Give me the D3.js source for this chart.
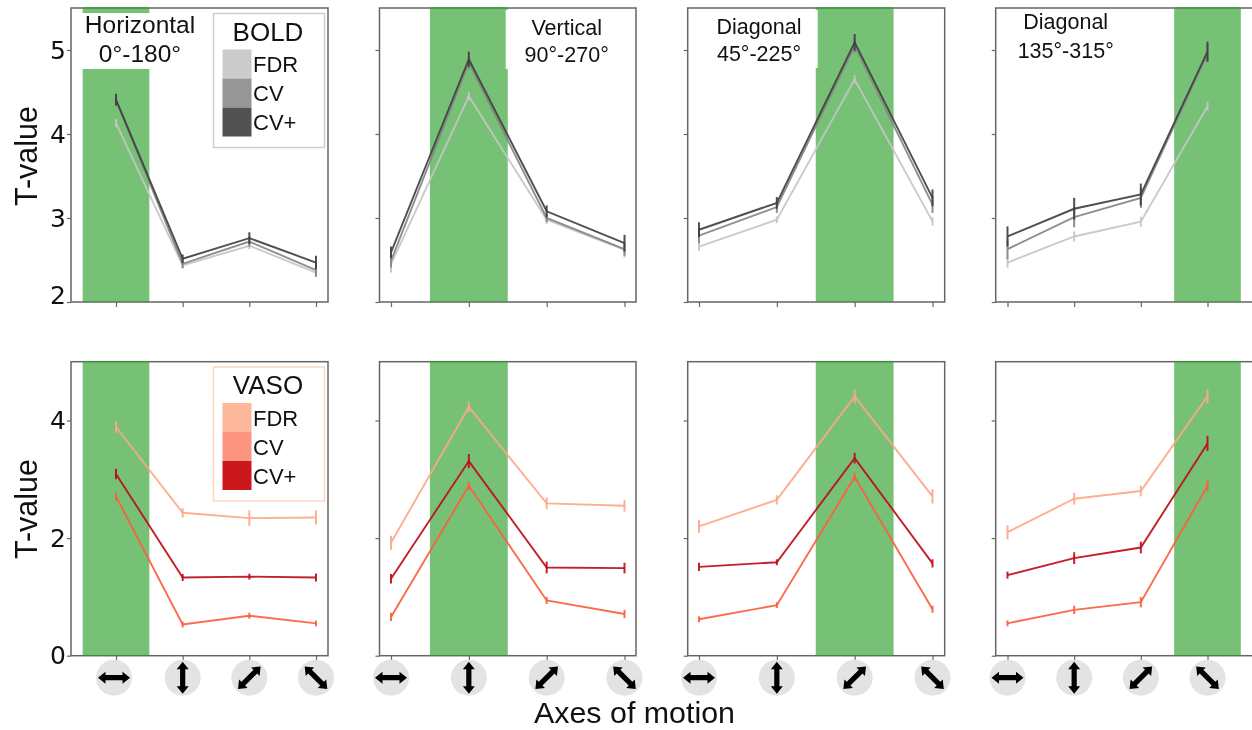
<!DOCTYPE html>
<html>
<head>
<meta charset="utf-8">
<script src="https://cdnjs.cloudflare.com/ajax/libs/d3/7.8.5/d3.min.js"></script>
<style>
    html, body { margin: 0; padding: 0; background: #fff; overflow: hidden; }
    svg { display: block; filter: blur(0.45px); }
    text { font-family: "Liberation Sans", Arial, sans-serif; fill: #111; }
</style>
</head>
<body>
<div id="chart"></div>
<script>
// every array below: one row per panel, one value per axis of motion
const axesOfMotion = ["horizontal", "vertical", "diagonal45", "diagonal135"]

const boldFDR = [
    [4.13, 2.435, 2.67, 2.35],
    [2.45, 4.45, 2.98, 2.62],
    [2.66, 2.98, 4.65, 2.96],
    [2.47, 2.78, 2.955, 4.33],
]
const boldFDRErr = [
    [0.05, 0.04, 0.04, 0.05],
    [0.1, 0.05, 0.05, 0.09],
    [0.05, 0.04, 0.05, 0.05],
    [0.06, 0.06, 0.06, 0.05],
]
const boldCV = [
    [4.4, 2.455, 2.72, 2.38],
    [2.49, 4.85, 3.0, 2.63],
    [2.79, 3.13, 5.05, 3.16],
    [2.63, 3.01, 3.24, 4.96],
]
const boldCVErr = [
    [0.07, 0.05, 0.06, 0.08],
    [0.08, 0.08, 0.05, 0.08],
    [0.09, 0.07, 0.08, 0.1],
    [0.12, 0.12, 0.12, 0.1],
]
const boldCVPlus = [
    [4.41, 2.515, 2.76, 2.47],
    [2.59, 4.89, 3.08, 2.7],
    [2.86, 3.18, 5.09, 3.24],
    [2.78, 3.11, 3.28, 4.98],
]
const boldCVPlusErr = [
    [0.07, 0.05, 0.07, 0.08],
    [0.07, 0.09, 0.07, 0.1],
    [0.09, 0.07, 0.1, 0.1],
    [0.12, 0.13, 0.13, 0.12],
]

const vasoFDR = [
    [3.89, 2.43, 2.34, 2.35],
    [1.92, 4.23, 2.59, 2.55],
    [2.2, 2.65, 4.41, 2.71],
    [2.1, 2.67, 2.8, 4.41],
]
const vasoFDRErr = [
    [0.1, 0.08, 0.13, 0.12],
    [0.12, 0.09, 0.1, 0.1],
    [0.11, 0.08, 0.12, 0.12],
    [0.12, 0.1, 0.09, 0.12],
]
const vasoCV = [
    [2.71, 0.53, 0.68, 0.55],
    [0.66, 2.89, 0.94, 0.71],
    [0.62, 0.86, 3.04, 0.79],
    [0.55, 0.78, 0.91, 2.89],
]
const vasoCVErr = [
    [0.07, 0.05, 0.05, 0.05],
    [0.07, 0.07, 0.06, 0.07],
    [0.05, 0.05, 0.07, 0.06],
    [0.05, 0.07, 0.09, 0.1],
]
const vasoCVPlus = [
    [3.09, 1.33, 1.345, 1.33],
    [1.31, 3.31, 1.5, 1.49],
    [1.51, 1.59, 3.36, 1.57],
    [1.37, 1.66, 1.84, 3.61],
]
const vasoCVPlusErr = [
    [0.09, 0.06, 0.05, 0.07],
    [0.08, 0.12, 0.1, 0.09],
    [0.07, 0.05, 0.09, 0.07],
    [0.06, 0.1, 0.1, 0.13],
]

const preferredAxis = [0, 1, 2, 3]
const boldTicks = [2, 3, 4, 5]
const vasoTicks = [0, 2, 4]
const legendLabels = ["FDR", "CV", "CV+"]
const panelTitles = [
    ["Horizontal", "0°-180°"],
    ["Vertical", "90°-270°"],
    ["Diagonal", "45°-225°"],
    ["Diagonal", "135°-315°"],
]

// layout, in page pixels
const dimensions = { width: 1252, height: 730 }
const panels = [
    { left: 71, right: 328, first: 116, last: 316 },
    { left: 379.5, right: 636, first: 391, last: 624.5 },
    { left: 687.7, right: 944.7, first: 699, last: 932.5 },
    { left: 995.7, right: 1256, first: 1007.5, last: 1207.5 },
]
const titleStyles = [
    { x: 140, y1: 33, y2: 62, size: 24.5 },
    { x: 566.7, y1: 35, y2: 62, size: 21.5 },
    { x: 759, y1: 33.5, y2: 61, size: 21.5 },
    { x: 1065.7, y1: 29, y2: 58, size: 21.5 },
]
// white boxes that sit behind the titles and cut into the green bands
const titlePatches = [
    { x: 76, y: 13, width: 130, height: 56 },
    { x: 505.7, y: 10, width: 128, height: 59 },
    { x: 690, y: 10, width: 127.7, height: 58 },
]

const greys = ["#c6c6c6", "#858585", "#404040"]
const reds = ["#fca888", "#fb5f3e", "#bf0c18"]
const boldSwatches = ["#cbcbcb", "#969696", "#525252"]
const vasoSwatches = ["#fdb79b", "#fc9580", "#cb181d"]
const spineColor = "#666"

const svg = d3.select("#chart")
    .append("svg")
    .attr("width", dimensions.width)
    .attr("height", dimensions.height)

const lineGenerator = (xScale, yScale) => d3.line()
    .x((d, i) => xScale(i))
    .y(d => yScale(d))

function drawPanel(p, row) {
    const box = panels[p]
    const xScale = d3.scaleLinear().domain([0, 3]).range([box.first, box.last])
    const yScale = d3.scaleLinear().domain(row.domain).range([row.bottom, row.top])
    const g = svg.append("g").attr("class", `panel-${row.name}-${p}`)

    // spines go under the band so the top edge reads darker there
    g.append("rect")
        .attr("x", box.left)
        .attr("y", row.top)
        .attr("width", box.right - box.left)
        .attr("height", row.bottom - row.top)
        .attr("fill", "none")
        .attr("stroke", spineColor)
        .attr("stroke-width", 1.5)

    const band = preferredAxis[p]
    g.append("rect")
        .attr("x", xScale(band - 0.5))
        .attr("y", row.top - 0.75)
        .attr("width", xScale(band + 0.5) - xScale(band - 0.5))
        .attr("height", row.bottom - row.top + 0.75)
        .attr("fill", "#2ca02c")
        .attr("opacity", 0.65)

    // lines are slightly see-through, the band tints them a little
    row.series.forEach((s, k) => {
        const values = s.values[p]
        const errors = s.errors[p]
        g.append("path")
            .attr("d", lineGenerator(xScale, yScale)(values))
            .attr("fill", "none")
            .attr("stroke", row.colors[k])
            .attr("stroke-opacity", 0.92)
            .attr("stroke-width", 1.9)
        g.selectAll(null)
            .data(values)
            .enter().append("line")
            .attr("x1", (d, i) => xScale(i))
            .attr("x2", (d, i) => xScale(i))
            .attr("y1", (d, i) => yScale(d - errors[i]))
            .attr("y2", (d, i) => yScale(d + errors[i]))
            .attr("stroke", row.colors[k])
            .attr("stroke-opacity", 0.92)
            .attr("stroke-width", 2)
    })

    const xAxis = d3.axisBottom(xScale)
        .tickValues([0, 1, 2, 3])
        .tickSize(5)
        .tickFormat("")
    g.append("g")
        .attr("transform", `translate(0, ${row.bottom})`)
        .call(xAxis)
        .call(a => a.select(".domain").remove())
        .call(a => a.selectAll("line").attr("stroke", spineColor).attr("stroke-width", 1.2))

    const yAxis = d3.axisLeft(yScale)
        .tickValues(row.ticks)
        .tickSize(4)
        .tickPadding(1)
        .tickFormat(p === 0 ? d3.format("d") : "")
    g.append("g")
        .attr("transform", `translate(${box.left}, 0)`)
        .call(yAxis)
        .call(a => a.select(".domain").remove())
        .call(a => a.selectAll("line").attr("stroke", spineColor).attr("stroke-width", 1.2))
        .call(a => a.selectAll("text")
            .style("font-family", "'DejaVu Sans'")
            .style("font-size", "25px")
            .style("fill", "#111"))
}

function drawLegend(title, swatches, frame, top) {
    const g = svg.append("g")
    g.append("rect")
        .attr("x", 213.5)
        .attr("y", top)
        .attr("width", 111)
        .attr("height", 134)
        .attr("fill", "#fff")
        .attr("stroke", frame)
        .attr("stroke-width", 1.5)
    g.append("text")
        .attr("x", 268)
        .attr("y", top + 27)
        .attr("text-anchor", "middle")
        .style("font-size", "26px")
        .text(title)
    const swatchY = d3.scaleBand().domain(legendLabels).range([top + 36, top + 123])
    g.selectAll("rect.swatch")
        .data(legendLabels)
        .enter().append("rect")
        .attr("class", "swatch")
        .attr("x", 222.5)
        .attr("y", d => swatchY(d))
        .attr("width", 29)
        .attr("height", swatchY.bandwidth())
        .attr("fill", (d, i) => swatches[i])
    g.selectAll("text.entry")
        .data(legendLabels)
        .enter().append("text")
        .attr("class", "entry")
        .attr("x", 253)
        .attr("y", d => swatchY(d) + 22.5)
        .style("font-size", "22px")
        .text(d => d)
}

function drawArrowIcon(cx, cy, axis) {
    const angle = { horizontal: 0, vertical: 90, diagonal45: -45, diagonal135: 45 }[axis]
    const g = svg.append("g").attr("transform", `translate(${cx}, ${cy})`)
    g.append("circle").attr("r", 18).attr("fill", "#e3e3e3")
    g.append("path")
        .attr("transform", `rotate(${angle})`)
        .attr("d", "M-16,0 L-8.5,-6 L-8.5,-2.6 L8.5,-2.6 L8.5,-6 L16,0 L8.5,6 L8.5,2.6 L-8.5,2.6 L-8.5,6 Z")
        .attr("fill", "#000")
}

const boldRow = {
    name: "bold",
    domain: [2, 5.5],
    top: 8,
    bottom: 302,
    ticks: boldTicks,
    colors: greys,
    series: [
        { values: boldFDR, errors: boldFDRErr },
        { values: boldCV, errors: boldCVErr },
        { values: boldCVPlus, errors: boldCVPlusErr },
    ],
}
const vasoRow = {
    name: "vaso",
    domain: [0, 5],
    top: 361.7,
    bottom: 655.7,
    ticks: vasoTicks,
    colors: reds,
    series: [
        { values: vasoFDR, errors: vasoFDRErr },
        { values: vasoCV, errors: vasoCVErr },
        { values: vasoCVPlus, errors: vasoCVPlusErr },
    ],
}

panels.forEach((box, p) => {
    drawPanel(p, boldRow)
    drawPanel(p, vasoRow)
})

// the lowest BOLD label sits a little above its tick
svg.select(".panel-bold-0").selectAll("text")
    .filter(d => d === 2)
    .attr("dy", "0.05em")

svg.selectAll(null)
    .data(titlePatches)
    .enter().append("rect")
    .attr("x", d => d.x)
    .attr("y", d => d.y)
    .attr("width", d => d.width)
    .attr("height", d => d.height)
    .attr("fill", "#fff")

panelTitles.forEach((lines, p) => {
    const style = titleStyles[p]
    lines.forEach((line, i) => {
        svg.append("text")
            .attr("x", style.x)
            .attr("y", i === 0 ? style.y1 : style.y2)
            .attr("text-anchor", "middle")
            .style("font-size", `${style.size}px`)
            .text(line)
    })
})

drawLegend("BOLD", boldSwatches, "#cfcfcf", 13.5)
drawLegend("VASO", vasoSwatches, "#fdd6c0", 367)

panels.forEach((box, p) => {
    const xScale = d3.scaleLinear().domain([0, 3]).range([box.first, box.last])
    // the icon under the first panel's first tick sits 2px left of it
    axesOfMotion.forEach((axis, i) => drawArrowIcon(xScale(i) - (p === 0 && i === 0 ? 2 : 0), 677.7, axis))
})

const yLabels = [{ y: 156 }, { y: 509 }]
yLabels.forEach(d => {
    svg.append("text")
        .attr("transform", `translate(37, ${d.y}) rotate(-90)`)
        .attr("text-anchor", "middle")
        .style("font-size", "30.5px")
        .text("T-value")
})

svg.append("text")
    .attr("x", 634.5)
    .attr("y", 723)
    .attr("text-anchor", "middle")
    .style("font-size", "30.4px")
    .text("Axes of motion")
</script>
</body>
</html>
